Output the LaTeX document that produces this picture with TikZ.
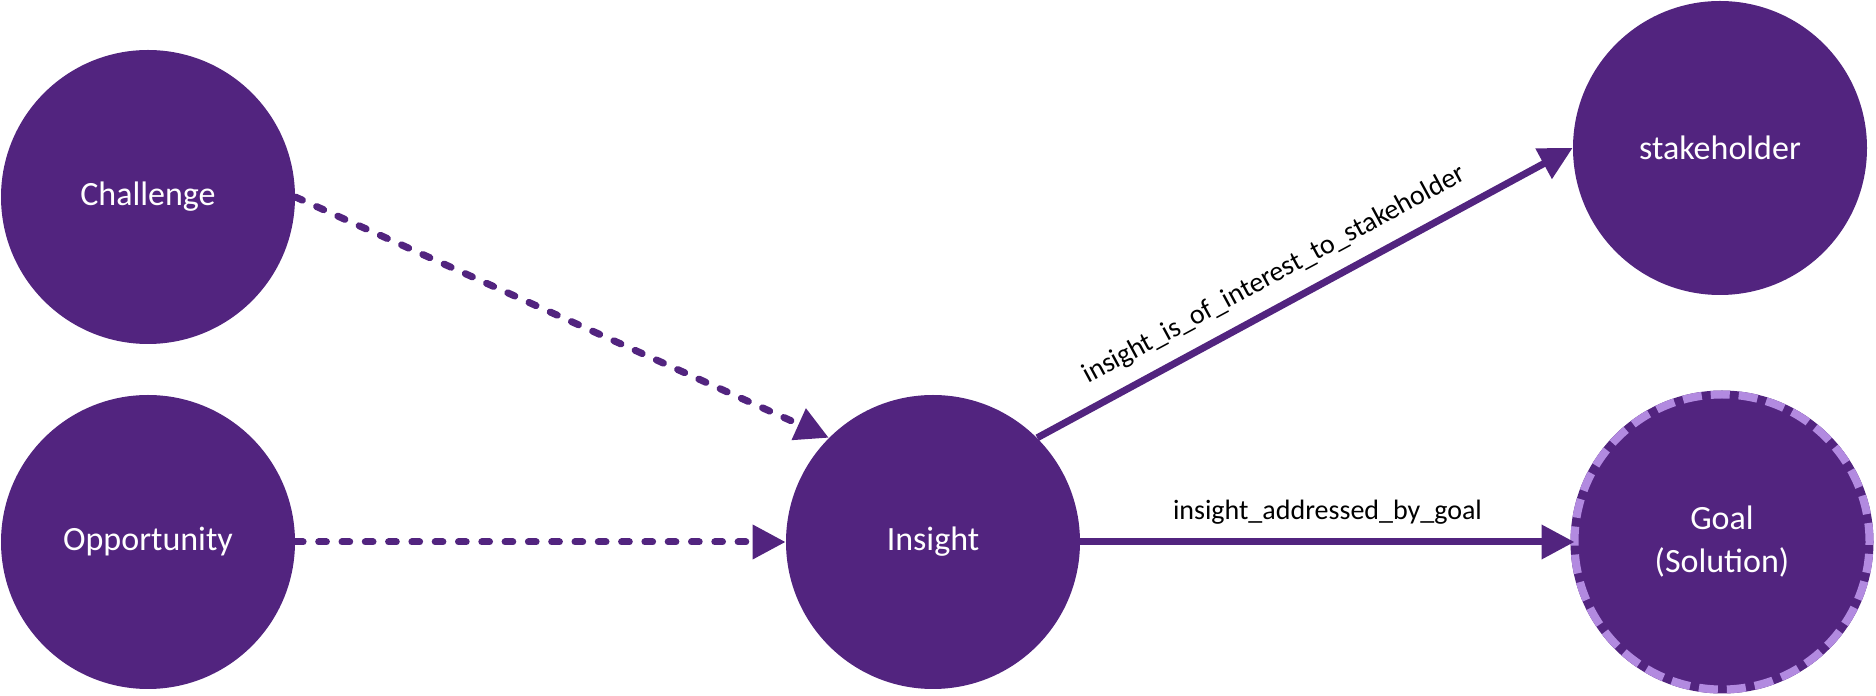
\documentclass[tikz,border=0pt]{standalone}
\usepackage{fontspec}
\setmainfont{Carlito}
\usetikzlibrary{arrows.meta}
\definecolor{purp}{RGB}{82,36,127}
\definecolor{lilac}{RGB}{178,138,224}
\begin{document}
\begin{tikzpicture}[x=1pt,y=1pt,
  concept/.style={circle,fill=purp,minimum size=147pt,inner sep=0pt,text=white,align=center,font=\fontsize{17}{21.5}\selectfont},
  link/.style={draw=purp,line width=3.5pt,-{Triangle[length=16.5pt,width=16.5pt]}},
  maybe/.style={link,line cap=round,dash pattern=on 3.85pt off 7.8pt},
  lbl/.style={font=\fontsize{14}{17}\selectfont,above=4pt}]% half a pixel per pt
\useasboundingbox (0,0) rectangle (938,348);
\node [concept] (challenge) at (74,249.5) {Challenge};
\node [concept] (opportunity) at (74,77) {Opportunity};
\node [concept] (insight) at (466.5,77) {Insight};
\node [concept] (stakeholder) at (860,274) {stakeholder};
\node [concept,minimum size=147.5pt,outer sep=0pt,draw=lilac,line width=4pt,dash pattern=on 9.5pt off 4.5pt,
  preaction={draw=purp,solid,line width=4pt}] (goal) at (861,77) {Goal\\(Solution)};
\draw [maybe] (challenge.east) -- (insight.135);
\draw [maybe] (opportunity) -- (insight);
\draw [link] (insight.45) -- node [lbl,sloped,pos=.47] {insight\_is\_of\_interest\_to\_stakeholder} (stakeholder.west);
\draw [link] (insight) -- node [lbl] {insight\_addressed\_by\_goal} (goal);
\end{tikzpicture}
\end{document}
